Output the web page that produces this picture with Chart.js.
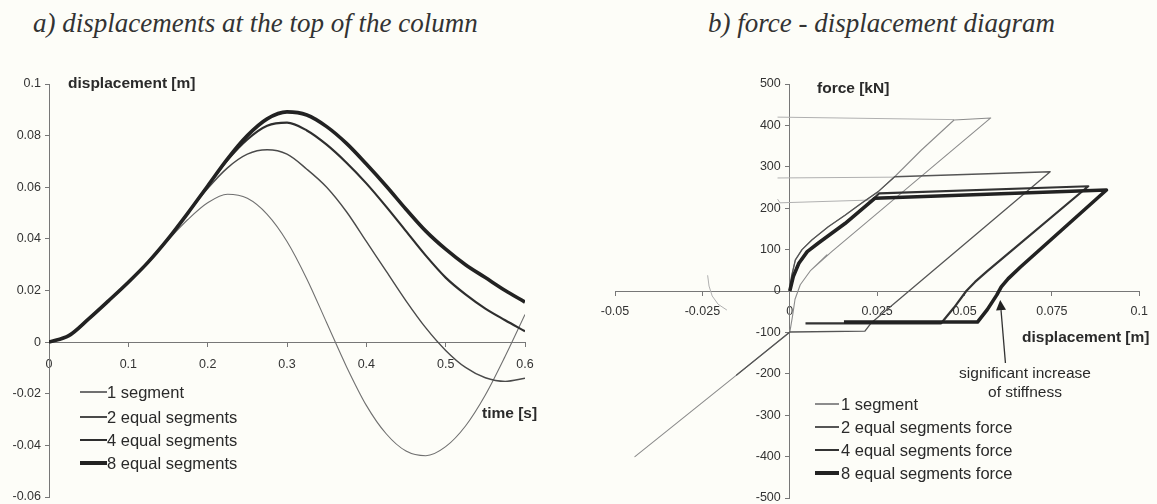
<!DOCTYPE html>
<html><head><meta charset="utf-8">
<script src="https://cdn.jsdelivr.net/npm/chart.js@4.4.1/dist/chart.umd.min.js"></script>
<style>
html,body{margin:0;padding:0;background:#fdfdf8;overflow:hidden;width:1157px;height:504px}
#wrap{position:relative;width:1157px;height:504px;overflow:hidden;font-family:"Liberation Sans",Arial,sans-serif;color:#333}
canvas{position:absolute}
.t{position:absolute;white-space:nowrap}
.title{font-family:"Liberation Serif","Times New Roman",serif;font-style:italic;font-size:27px;line-height:32px;color:#333}
.ax{font-weight:bold;font-size:15.5px;line-height:18px;color:#2a2a2a}
.leg{font-size:16.5px;line-height:20px;color:#2a2a2a}
.ann{font-size:15.5px;line-height:19px;text-align:center;width:200px;color:#2a2a2a}
.sw{position:absolute}
</style></head><body><div id="wrap">
<canvas id="cA" width="560" height="464" style="left:0;top:60px"></canvas>
<canvas id="cB" width="577" height="464" style="left:580px;top:60px"></canvas>
<div class="t title" style="left:33px;top:7px">a) displacements at the top of the column</div>
<div class="t title" style="left:708px;top:7px">b) force - displacement diagram</div>
<div class="t ax" style="left:68px;top:74px">displacement [m]</div>
<div class="t ax" style="left:482px;top:404px">time [s]</div>
<div class="t ax" style="left:817px;top:79px">force [kN]</div>
<div class="t ax" style="left:1022px;top:328px">displacement [m]</div>
<div class="t ann" style="left:925px;top:363px">significant increase<br>of stiffness</div>
<div id="legA"></div><div id="legB"></div>
</div>
<script>
// ---------- a) displacement vs time ----------
const times = [0,0.025,0.05,0.075,0.1,0.125,0.15,0.175,0.2,0.225,0.25,0.275,0.3,0.325,0.35,0.375,0.4,0.425,0.45,0.475,0.5,0.525,0.55,0.575,0.6];
const seg1 = [0,0.0025,0.009,0.016,0.0232,0.031,0.0395,0.0475,0.054,0.0573,0.0557,0.0495,0.039,0.0245,0.0075,-0.0095,-0.0245,-0.0355,-0.0422,-0.044,-0.0405,-0.0325,-0.0205,-0.0055,0.0107];
const seg2 = [0,0.0025,0.009,0.016,0.0232,0.031,0.040,0.050,0.0595,0.0675,0.0728,0.0745,0.0728,0.067,0.060,0.0505,0.039,0.0275,0.016,0.0055,-0.0032,-0.0098,-0.0138,-0.0152,-0.014];
const seg4 = [0,0.0025,0.009,0.016,0.0232,0.031,0.040,0.050,0.0605,0.0705,0.0785,0.0838,0.085,0.082,0.0765,0.0695,0.0615,0.0525,0.043,0.0335,0.025,0.0185,0.013,0.0085,0.0042];
const seg8 = [0,0.0025,0.009,0.016,0.0232,0.031,0.040,0.050,0.0605,0.071,0.080,0.0865,0.0892,0.088,0.0835,0.077,0.069,0.0605,0.0515,0.043,0.036,0.030,0.025,0.020,0.0155];
const xTickValsA = [0,0.1,0.2,0.3,0.4,0.5,0.6];
const xTickLabelsA = ['0','0.1','0.2','0.3','0.4','0.5','0.6'];
const yTickValsA = [-0.06,-0.04,-0.02,0,0.02,0.04,0.06,0.08,0.1];
const yTickLabelsA = ['-0.06','-0.04','-0.02','0','0.02','0.04','0.06','0.08','0.1'];
const legendA = ['1 segment','2 equal segments','4 equal segments','8 equal segments'];

// ---------- b) force vs displacement ----------
const fd1 = [0,0.0005,0.0016,0.0035,0.0063,0.011,0.0158,0.0205,0.0253,0.030,0.0376,0.047,0.0575,0.012,0.006,0.003,0.0015,0.0008,0,-0.0443,0,0.0008,0.0015,0.003,0.006,0.0107];
const ff1 = [0,35,75,100,123,155,183,212,240,276,340,413,418,95,50,15,-20,-60,-100,-400,-100,-60,-20,15,50,88];
const fd2 = [0,0.0005,0.0016,0.0035,0.0063,0.011,0.0158,0.0205,0.0253,0.030,0.0745,0.0232,0.0215,0,-0.0152,-0.0138];
const ff2 = [0,35,75,100,123,155,183,212,240,276,288,-78,-97,-99,-203,-193];
const fd4 = [0,0.001,0.0026,0.005,0.0082,0.0158,0.0234,0.0256,0.0854,0.0565,0.053,0.0505,0.047,0.0433,0.0045];
const ff4 = [0,35,67,95,116,163,218,236,253,48,22,0,-40,-78,-78];
const fd8 = [0,0.001,0.0026,0.005,0.0082,0.0158,0.0243,0.0906,0.066,0.0625,0.0605,0.0592,0.0565,0.0537,0.0155];
const ff8 = [0,35,67,95,116,163,224,244,58,30,10,-10,-45,-75,-75];
const faintD1 = [-0.0035,0.047], faintF1 = [420,414];
const faintD2 = [-0.0035,0.030], faintF2 = [273,275];
const faintD3 = [-0.0035,-0.0028,0.0243], faintF3 = [222,213,220];
const arcD = [-0.0235,-0.0231,-0.0222,-0.0205,-0.018], arcF = [38,12,-12,-32,-46];
const xTickValsB = [-0.05,-0.025,0,0.025,0.05,0.075,0.1];
const xTickLabelsB = ['-0.05','-0.025','0','0.025','0.05','0.075','0.1'];
const yTickValsB = [-500,-400,-300,-200,-100,0,100,200,300,400,500];
const yTickLabelsB = ['-500','-400','-300','-200','-100','0','100','200','300','400','500'];
const legendB = ['1 segment','2 equal segments force','4 equal segments force','8 equal segments force'];
const arrowTip = [0.0602,-22], arrowTail = [0.0617,-174];

// styles
const styles = [
  {color:'#8c8c8c', width:1.1},
  {color:'#555555', width:1.3},
  {color:'#333333', width:2.2},
  {color:'#222222', width:3.6}
];
const stylesA = [
  {color:'#707070', width:1.1},
  {color:'#4a4a4a', width:1.4},
  {color:'#2e2e2e', width:2.2},
  {color:'#222222', width:3.6}
];
const FONT = '"Liberation Sans", Arial, sans-serif';
const TICKFONT = {size:12.5, family:FONT};
const pts = (xs, ys) => xs.map((v,i)=>({x:v, y:ys[i]}));

function axis(min, max, vals, labels, pos, pad, showLabels){
  return {
    type:'linear', position:pos, min:min, max:max,
    afterBuildTicks: s => { s.ticks = vals.map(v=>({value:v})); },
    ticks:{display:showLabels, callback:(v,i)=>labels[i], autoSkip:false, maxRotation:0, color:'#333', font:TICKFONT, padding:pad},
    grid:{drawOnChartArea:false, drawTicks:true, tickLength:4, color:'#777'},
    border:{display:true, color:'#777', width:1}
  };
}

// y tick labels drawn beside the (centred) y axis, placed from the scale
function yLabelPlugin(vals, labels, gap){
  return {
    id:'ylab',
    afterDraw(chart){
      const {ctx, scales:{x, y}} = chart;
      const ax = x.getPixelForValue(0);
      ctx.save();
      ctx.font = TICKFONT.size + 'px ' + FONT;
      ctx.fillStyle = '#333';
      ctx.textAlign = 'right';
      ctx.textBaseline = 'middle';
      vals.forEach((v,i)=>ctx.fillText(labels[i], ax - gap, y.getPixelForValue(v)));
      ctx.restore();
    }
  };
}

new Chart(document.getElementById('cA'), {
  type:'line',
  data:{datasets:[seg8,seg4,seg2,seg1].map((s,k)=>{
    const st = stylesA[3-k];
    return {data:pts(times,s), borderColor:st.color, borderWidth:st.width, pointRadius:0, fill:false, cubicInterpolationMode:'monotone'};
  })},
  options:{
    responsive:false, animation:false, devicePixelRatio:1,
    layout:{padding:{left:49, top:24, right:35, bottom:27}},
    plugins:{legend:{display:false}, tooltip:{enabled:false}},
    scales:{
      x: axis(0, 0.6, xTickValsA, xTickLabelsA, {y:0}, 11, true),
      y: axis(-0.06, 0.1, yTickValsA, yTickLabelsA, {x:0}, 0, false)
    }
  },
  plugins:[yLabelPlugin(yTickValsA, yTickLabelsA, 8)]
});

const arrowPlugin = {
  id:'arrow',
  afterDatasetsDraw(chart){
    const {ctx, scales:{x, y}} = chart;
    const tx = x.getPixelForValue(arrowTip[0]), ty = y.getPixelForValue(arrowTip[1]);
    const bx = x.getPixelForValue(arrowTail[0]), by = y.getPixelForValue(arrowTail[1]);
    const ang = Math.atan2(ty-by, tx-bx);
    const L = 10, W = 5;
    const hx = tx - L*Math.cos(ang), hy = ty - L*Math.sin(ang);
    ctx.save();
    ctx.strokeStyle = '#333'; ctx.fillStyle = '#222'; ctx.lineWidth = 1.3;
    ctx.beginPath(); ctx.moveTo(bx,by); ctx.lineTo(hx,hy); ctx.stroke();
    ctx.beginPath(); ctx.moveTo(tx,ty);
    ctx.lineTo(hx + W*Math.sin(ang), hy - W*Math.cos(ang));
    ctx.lineTo(hx - W*Math.sin(ang), hy + W*Math.cos(ang));
    ctx.closePath(); ctx.fill();
    ctx.restore();
  }
};

const faintDs = [[faintD1,faintF1],[faintD2,faintF2],[faintD3,faintF3],[arcD,arcF]].map(p=>({
  data:pts(p[0],p[1]), borderColor:'#b0b0b0', borderWidth:1, pointRadius:0, showLine:true, fill:false, tension:0
}));
const mainB = [[fd8,ff8],[fd4,ff4],[fd2,ff2],[fd1,ff1]].map((p,k)=>{
  const st = styles[3-k];
  return {data:pts(p[0],p[1]), borderColor:st.color, borderWidth:st.width, pointRadius:0, showLine:true, fill:false, tension:0, borderJoinStyle:'round'};
});

new Chart(document.getElementById('cB'), {
  type:'scatter',
  data:{datasets: mainB.concat(faintDs)},
  options:{
    responsive:false, animation:false, devicePixelRatio:1,
    layout:{padding:{left:35, top:24, right:12, bottom:26}},
    plugins:{legend:{display:false}, tooltip:{enabled:false}},
    scales:{
      x: axis(-0.05, 0.1, xTickValsB, xTickLabelsB, {y:0}, 9, true),
      y: axis(-500, 500, yTickValsB, yTickLabelsB, {x:0}, 0, false)
    }
  },
  plugins:[arrowPlugin, yLabelPlugin(yTickValsB, yTickLabelsB, 9)]
});

// HTML legends
function buildLegend(el, labels, sty, x0, x1, tx, rows){
  let h = '';
  labels.forEach((lab,i)=>{
    const st = sty[i], cy = rows[i];
    h += `<div class="sw" style="left:${x0}px;width:${x1-x0}px;top:${cy-st.width/2}px;height:${st.width}px;background:${st.color}"></div>`;
    h += `<div class="t leg" style="left:${tx}px;top:${cy-10}px">${lab}</div>`;
  });
  el.innerHTML = h;
}
buildLegend(document.getElementById('legA'), legendA, stylesA, 80, 107, 107, [392,417,440,463]);
buildLegend(document.getElementById('legB'), legendB, styles, 815, 839, 841, [404,427,450,473]);
</script>
</body></html>
